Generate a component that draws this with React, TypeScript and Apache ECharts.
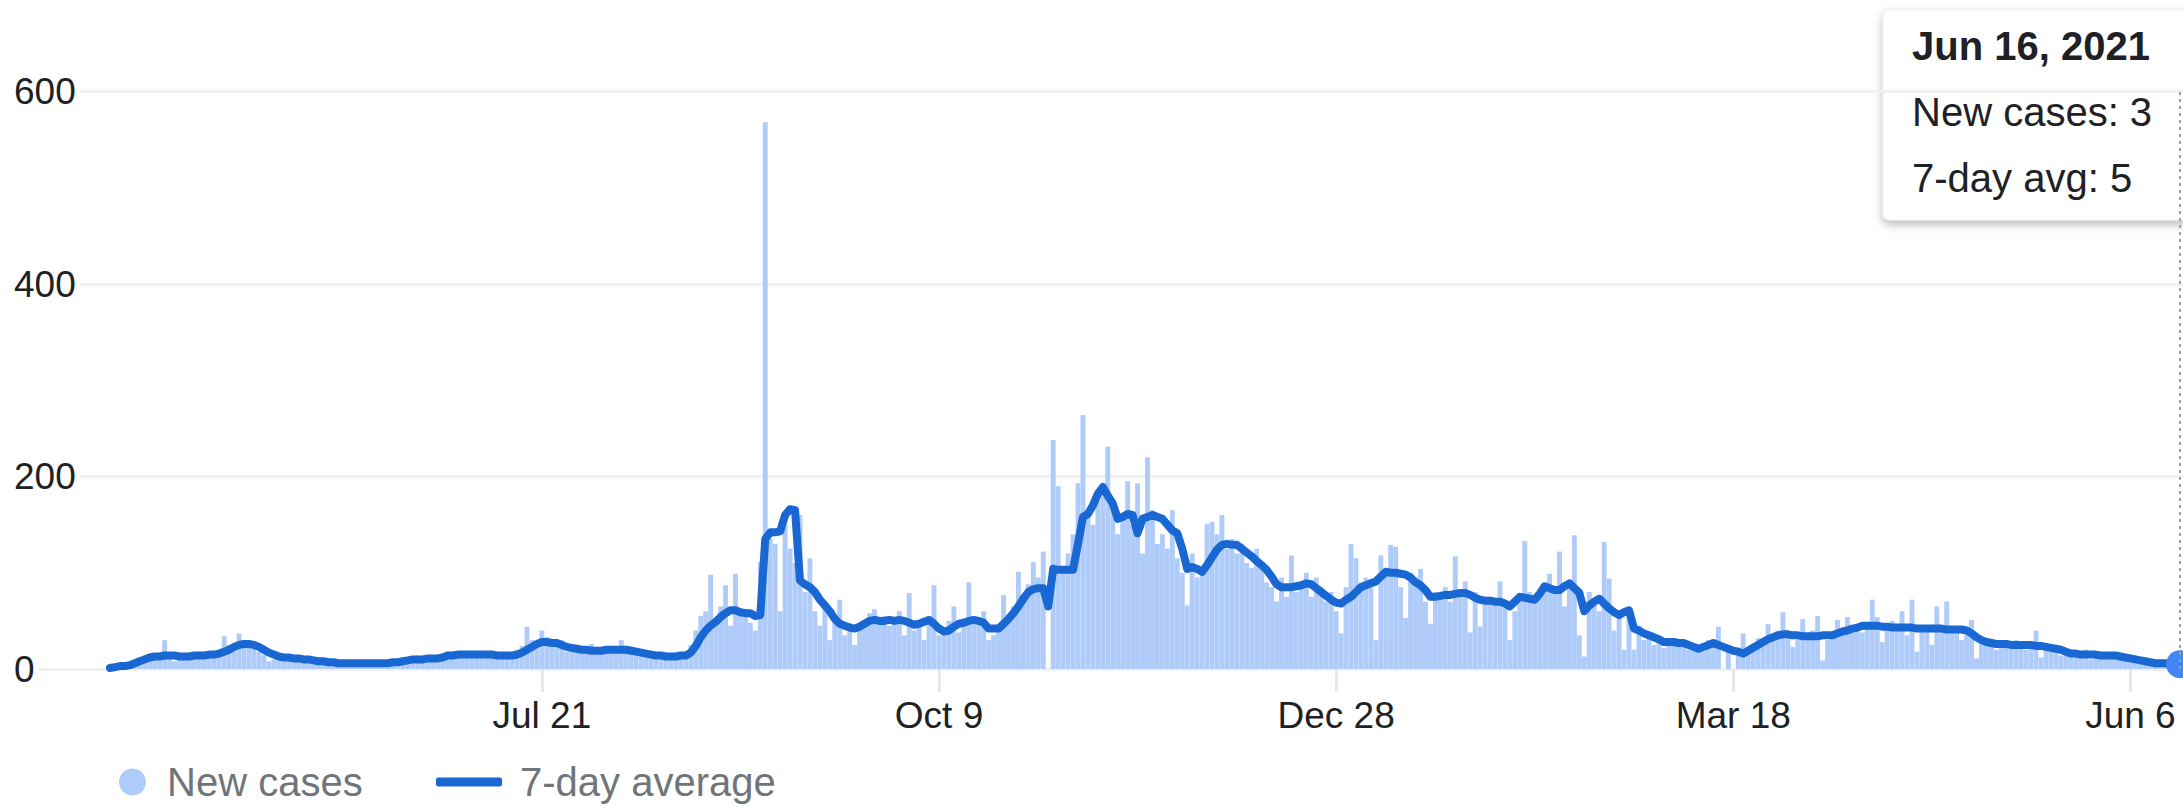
import React, { useEffect, useRef } from "react";
import * as echarts from "echarts";

const START_UTC = Date.UTC(2020, 3, 25);
const MONTHS = ["Jan", "Feb", "Mar", "Apr", "May", "Jun", "Jul", "Aug", "Sep", "Oct", "Nov", "Dec"];
const TICK_LABELS = ["Jul 21", "Oct 9", "Dec 28", "Mar 18", "Jun 6"];
const SERIES_NAMES = ["New cases", "7-day average"];

// Daily new cases, Apr 25 2020 .. Jun 16 2021
const NEW_CASES = [
  0, 2, 5, 3, 6, 9, 12, 14, 16, 10,
  12, 30, 14, 8, 12, 16, 13, 15, 18, 12,
  14, 17, 20, 34, 25, 22, 37, 28, 24, 26,
  18, 15, 8, 10, 12, 14, 11, 9, 13, 10,
  9, 7, 10, 6, 8, 5, 7, 9, 4, 6,
  8, 5, 7, 6, 9, 4, 6, 10, 8, 7,
  12, 9, 14, 10, 13, 11, 9, 16, 18, 12,
  17, 14, 16, 19, 13, 15, 17, 12, 16, 13,
  11, 15, 20, 24, 44, 30, 22, 40, 33, 26,
  25, 30, 18, 22, 24, 17, 20, 26, 15, 22,
  19, 24, 21, 30, 17, 23, 15, 16, 14, 12,
  13, 15, 10, 14, 12, 16, 18, 25, 40, 55,
  60, 98, 50, 65, 87, 45, 99, 60, 62, 48,
  40, 111, 568, 135, 130, 60, 150, 125, 110, 160,
  80, 115, 60, 45, 70, 30, 55, 72, 35, 48,
  25, 45, 50, 58, 62, 48, 55, 45, 52, 60,
  35, 79, 40, 48, 30, 55, 87, 35, 42, 50,
  65, 38, 45, 90, 52, 48, 60, 30, 35, 40,
  77, 48, 65, 101, 72, 88, 111, 95, 122, 0,
  238, 190, 100, 120, 140, 193, 264, 160, 150, 175,
  190, 231, 170, 140, 160, 195, 150, 193, 120, 220,
  165, 130, 140, 125, 165, 115, 100, 66, 120, 95,
  100, 151, 153, 140, 160, 125, 135, 120, 130, 110,
  105, 125, 110, 90, 85, 70, 95, 75, 118, 80,
  90, 100, 75, 95, 85, 70, 80, 60, 37, 85,
  130, 115, 90, 95, 85, 30, 118, 104, 129, 127,
  85, 53, 100, 95, 104, 70, 47, 80, 75, 85,
  70, 117, 75, 91, 38, 80, 44, 70, 75, 72,
  91, 65, 30, 60, 70, 133, 80, 70, 75, 85,
  99, 80, 122, 65, 90, 139, 35, 13, 80, 70,
  60, 132, 94, 40, 55, 20, 60, 20, 45, 30,
  35, 25, 28, 22, 30, 25, 28, 24, 20, 22,
  18, 25, 30, 24, 44, 0, 20, 0, 22, 37,
  15, 20, 32, 28, 47, 35, 40, 59, 33, 23,
  30, 52, 35, 40, 55, 9, 30, 38, 51, 40,
  54, 45, 40, 38, 48, 72, 54, 28, 45, 50,
  40, 60, 35, 72, 18, 40, 45, 25, 65, 38,
  70, 42, 40, 30, 35, 51, 11, 28, 26, 30,
  20, 24, 28, 22, 30, 25, 20, 22, 40, 12,
  25, 22, 18, 14, 20, 16, 12, 18, 20, 10,
  15, 12, 16, 14, 13, 10, 12, 8, 10, 9,
  7, 5, 6, 4, 5, 6, 3, 3,
];

// 7-day average, same days
const AVG_7DAY = [
  1, 2, 3, 3, 4, 6, 8, 10, 12, 13,
  13, 14, 14, 14, 13, 13, 13, 14, 14, 14,
  15, 15, 16, 18, 20, 23, 25, 26, 26, 25,
  23, 20, 17, 15, 13, 12, 12, 11, 11, 10,
  10, 9, 8, 8, 7, 7, 6, 6, 6, 6,
  6, 6, 6, 6, 6, 6, 6, 7, 7, 8,
  9, 10, 10, 10, 11, 11, 11, 12, 14, 14,
  15, 15, 15, 15, 15, 15, 15, 15, 14, 14,
  14, 14, 15, 17, 20, 23, 26, 28, 28, 27,
  27, 25, 23, 22, 21, 20, 20, 19, 19, 19,
  20, 20, 20, 20, 20, 19, 18, 17, 16, 15,
  14, 14, 13, 13, 13, 14, 14, 17, 24, 33,
  40, 45, 49, 54, 58, 61, 61, 59, 58, 58,
  55, 56, 135, 142, 142, 143, 160, 166, 165, 92,
  88, 85, 80, 72, 66, 60, 52, 47, 45, 43,
  42, 44, 47, 50, 51, 50, 50, 51, 50, 51,
  50, 48, 46, 47, 49, 51, 47, 42, 39, 40,
  44, 47, 48, 50, 51, 50, 48, 42, 42, 42,
  47, 52, 58, 65, 73, 80, 83, 84, 84, 65,
  104, 103, 103, 103, 103, 130, 158, 161, 170, 182,
  189, 180, 172, 156, 158, 161, 160, 141, 156, 158,
  160, 158, 156, 150, 144, 141, 125, 104, 106, 104,
  101, 108, 116, 124, 129, 130, 129, 129, 125, 121,
  117, 112, 108, 103, 96, 88, 85, 85, 85, 86,
  87, 89, 88, 84, 80, 76, 72, 69, 68, 72,
  75, 80, 85, 87, 89, 91, 96, 101, 100, 100,
  99, 98, 95, 90, 87, 82, 75, 75, 76, 77,
  77, 78, 79, 79, 77, 74, 72, 71, 71, 70,
  70, 68, 65, 70, 75, 74, 73, 72, 78, 86,
  84, 82, 82, 86, 89, 84, 79, 60, 66, 70,
  73, 68, 63, 59, 56, 59, 61, 42, 40, 37,
  35, 33, 31, 28, 28, 28, 27, 27, 25, 23,
  21, 23, 25, 27, 25, 23, 21, 19, 18, 16,
  19, 22, 25, 28, 31, 33, 35, 36, 36, 35,
  35, 34, 34, 34, 34, 35, 35, 35, 37, 39,
  40, 42, 43, 45, 45, 45, 45, 44, 44, 43,
  43, 43, 43, 43, 42, 42, 42, 42, 42, 42,
  41, 41, 41, 41, 40, 37, 33, 30, 28, 27,
  26, 26, 26, 25, 25, 25, 25, 25, 24, 24,
  23, 22, 21, 20, 18, 16, 16, 15, 15, 15,
  15, 14, 14, 14, 14, 13, 12, 11, 10, 9,
  8, 7, 6, 6, 6, 5, 5, 5,
];

const FONT = "'Liberation Sans', Arial, Helvetica, sans-serif";

export default function App() {
  const ref = useRef<HTMLDivElement>(null);

  useEffect(() => {
    if (!ref.current) return;
    const chart = echarts.init(ref.current, null, { renderer: "svg" });
    const n = NEW_CASES.length;
    const dateOf = (i: number) => new Date(START_UTC + i * 86400000);
    const dayLabel = (i: number) => {
      const d = dateOf(i);
      return `${MONTHS[d.getUTCMonth()]} ${d.getUTCDate()}`;
    };
    const labels = Array.from({ length: n }, (_, i) => dayLabel(i));
    const tickIdx = TICK_LABELS.map((l) => labels.lastIndexOf(l));
    const last = n - 1;
    const lastDate = dateOf(last);
    const title = `${labels[last]}, ${lastDate.getUTCFullYear()}`;

    const barData = NEW_CASES.map((v, i) => [i, v]);
    const lineData: any[] = AVG_7DAY.map((v, i) => [i, v]);
    lineData[last] = {
      value: [last, AVG_7DAY[last]],
      symbol: "circle",
      symbolSize: 28,
      itemStyle: { color: "#4285f4" },
    };

    const legendText = { color: "#70757a", fontSize: 40, fontFamily: FONT, lineHeight: 40 };

    chart.setOption({
      animation: false,
      backgroundColor: "#ffffff",
      grid: { left: 14, right: 0, top: 91.5, bottom: 138, containLabel: false },
      legend: [
        {
          data: [{ name: SERIES_NAMES[0], icon: "circle" }],
          left: 114,
          top: 757,
          itemWidth: 27,
          itemHeight: 27,
          selectedMode: false,
          textStyle: { ...legendText, padding: [0, 0, 0, 16] },
        },
        {
          data: [{ name: SERIES_NAMES[1], icon: "roundRect" }],
          left: 431,
          top: 757,
          itemWidth: 66,
          itemHeight: 9,
          selectedMode: false,
          textStyle: { ...legendText, padding: [0, 0, 0, 13] },
        },
      ],
      xAxis: {
        type: "value",
        min: -19.34,
        max: last + 0.6,
        axisLine: { show: false },
        splitLine: { show: false },
        axisTick: {
          show: true,
          customValues: tickIdx,
          length: 23,
          lineStyle: { color: "#e8e8e8", width: 3 },
        },
        axisLabel: {
          customValues: tickIdx,
          formatter: (v: number) => labels[Math.round(v)] ?? "",
          color: "#202124",
          fontSize: 37,
          fontFamily: FONT,
          margin: 28,
        },
      },
      yAxis: {
        type: "value",
        min: 0,
        max: 600,
        interval: 200,
        axisLine: { show: false },
        axisTick: { show: false },
        splitLine: { lineStyle: { color: "#f1f1f1", width: 3 } },
        axisLabel: {
          color: "#202124",
          fontSize: 37,
          fontFamily: FONT,
          align: "left",
          margin: 0,
          backgroundColor: "#ffffff",
          padding: [4, 4, 4, 0],
        },
      },
      series: [
        {
          name: SERIES_NAMES[0],
          type: "bar",
          data: barData,
          barCategoryGap: "2%",
          itemStyle: { color: "#aecbfa" },
          color: "#aecbfa",
          z: 2,
        },
        {
          name: SERIES_NAMES[1],
          type: "line",
          data: lineData,
          color: "#1967d2",
          symbol: "none",
          showSymbol: true,
          lineStyle: { color: "#1967d2", width: 8, join: "round", cap: "round" },
          itemStyle: { color: "#1967d2" },
          z: 3,
          markLine: {
            silent: true,
            symbol: "none",
            label: { show: false },
            lineStyle: { type: [3, 4], color: "#9aa0a6", width: 2 },
            data: [{ xAxis: last }],
          },
        },
      ],
      graphic: [
        {
          type: "group",
          z: 100,
          children: [
            {
              type: "rect",
              shape: { x: 1883, y: 10, width: 340, height: 210, r: 6 },
              style: {
                fill: "#ffffff",
                stroke: "#eeeeee",
                lineWidth: 1,
                shadowBlur: 10,
                shadowOffsetY: 4,
                shadowColor: "rgba(0,0,0,0.28)",
              },
            },
            {
              type: "text",
              x: 1912,
              y: 46,
              style: {
                text: title,
                fill: "#202124",
                font: `bold 40px ${FONT}`,
                verticalAlign: "middle",
              },
            },
            {
              type: "text",
              x: 1912,
              y: 112,
              style: {
                text: `${SERIES_NAMES[0]}: ${NEW_CASES[last]}`,
                fill: "#202124",
                font: `40px ${FONT}`,
                verticalAlign: "middle",
              },
            },
            {
              type: "text",
              x: 1912,
              y: 178,
              style: {
                text: `7-day avg: ${AVG_7DAY[last]}`,
                fill: "#202124",
                font: `40px ${FONT}`,
                verticalAlign: "middle",
              },
            },
          ],
        },
      ],
    });
    return () => chart.dispose();
  }, []);

  return (
    <div
      ref={ref}
      style={{ position: "fixed", left: 0, top: 0, width: 2183, height: 807, background: "#fff" }}
    />
  );
}
